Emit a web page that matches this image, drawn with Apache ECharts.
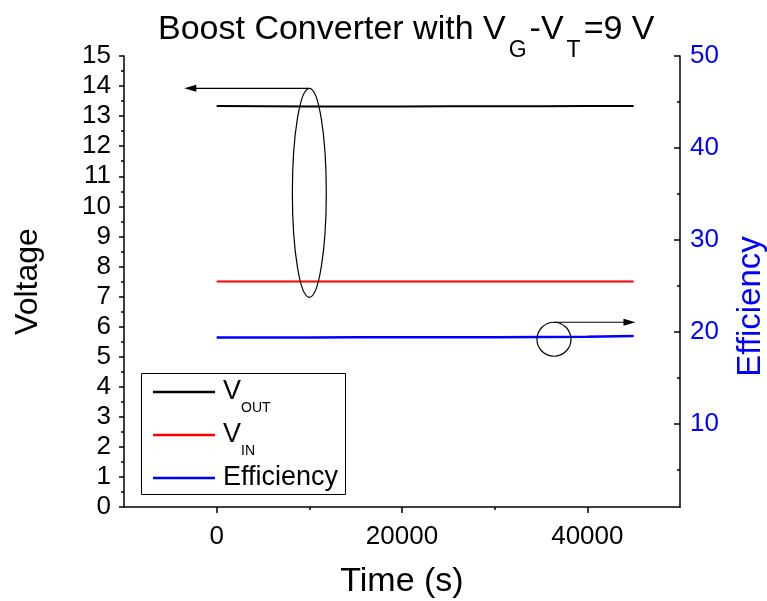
<!DOCTYPE html>
<html>
<head>
<meta charset="utf-8">
<script src="https://cdn.jsdelivr.net/npm/echarts@6/dist/echarts.min.js"></script>
<style>
    html, body { margin: 0; padding: 0; background: #fff; }
    #main { width: 767px; height: 601px; }
</style>
</head>
<body>
<div id="main"></div>
<script>
// time (s)
var timeData = [0, 5000, 10000, 15000, 20000, 25000, 30000, 35000, 40000, 45000];
// voltages (V)
var voutData = [13.34, 13.33, 13.32, 13.32, 13.32, 13.33, 13.33, 13.33, 13.34, 13.34];
var vinData = [7.5, 7.5, 7.5, 7.5, 7.5, 7.5, 7.5, 7.5, 7.5, 7.5];
// efficiency (%)
var effData = [19.42, 19.42, 19.42, 19.43, 19.43, 19.44, 19.45, 19.47, 19.5, 19.57];

var xLabelValues = [0, 20000, 40000];
var xMinorTicks = [10000, 30000];
var effLabelValues = [10, 20, 30, 40, 50];
var effMinorTicks = [5, 15, 25, 35, 45];

var font = 'Liberation Sans, Arial, sans-serif';

function pairs(xs, ys) {
    var out = [];
    for (var i = 0; i < xs.length; i++) {
        out.push([xs[i], ys[i]]);
    }
    return out;
}

var legendNames = {
    'VOUT': '{m|V}{s|OUT}',
    'VIN': '{m|V}{s|IN}',
    'Efficiency': '{m|Efficiency}{s| }'
};

var chart = echarts.init(document.getElementById('main'));

var tickStyle = { color: '#000', width: 1.5 };

var option = {
    animation: false,
    textStyle: { fontFamily: font },
    title: {
        text: '{m|Boost Converter with V}{s|G}{m|-V}{s|T}{m|=9 V}',
        left: 158,
        top: 13,
        padding: 0,
        textStyle: {
            fontWeight: 'normal',
            rich: {
                m: { fontFamily: font, fontSize: 34, fontWeight: 'normal', color: '#000', lineHeight: 40, verticalAlign: 'top' },
                s: { fontFamily: font, fontSize: 23, fontWeight: 'normal', color: '#000', lineHeight: 26, padding: [26, 3, 0, 3], verticalAlign: 'top' }
            }
        }
    },
    grid: { left: 124, right: 87, top: 56, bottom: 94, outerBoundsMode: 'none' },
    legend: {
        orient: 'vertical',
        left: 153,
        top: 369,
        padding: 0,
        itemGap: -3,
        itemWidth: 62,
        itemHeight: 2.5,
        icon: 'rect',
        data: ['VOUT', 'VIN', 'Efficiency'],
        formatter: function (name) { return legendNames[name]; },
        textStyle: {
            rich: {
                m: { fontFamily: font, fontSize: 27, color: '#000', lineHeight: 46, padding: [0, 0, 0, 3] },
                s: { fontFamily: font, fontSize: 14, color: '#000', lineHeight: 14, padding: [32, 0, 0, 0], verticalAlign: 'top' }
            }
        }
    },
    xAxis: [{
        type: 'value',
        min: -10000,
        max: 50000,
        interval: 10000,
        name: 'Time (s)',
        nameLocation: 'middle',
        nameGap: 58,
        nameTextStyle: { fontFamily: font, fontSize: 34, color: '#000' },
        splitLine: { show: false },
        axisLine: { show: true, onZero: false, lineStyle: tickStyle },
        axisTick: { show: true, customValues: xLabelValues, length: 6, lineStyle: tickStyle },
        axisLabel: {
            customValues: xLabelValues,
            margin: 17,
            fontFamily: font,
            fontSize: 26,
            color: '#000',
            formatter: function (v) { return String(v); }
        }
    }, {
        type: 'value',
        min: -10000,
        max: 50000,
        position: 'bottom',
        splitLine: { show: false },
        axisLine: { show: false, onZero: false },
        axisLabel: { show: false },
        axisTick: { show: true, customValues: xMinorTicks, length: 3, lineStyle: tickStyle }
    }],
    yAxis: [{
        type: 'value',
        min: 0,
        max: 15,
        interval: 1,
        position: 'left',
        name: 'Voltage',
        nameLocation: 'middle',
        nameGap: 80,
        nameTextStyle: { fontFamily: font, fontSize: 32, color: '#000' },
        splitLine: { show: false },
        axisLine: { show: true, onZero: false, lineStyle: tickStyle },
        axisTick: { show: true, length: 5, lineStyle: tickStyle },
        minorTick: { show: true, splitNumber: 2, length: 3, lineStyle: tickStyle },
        axisLabel: { margin: 13, fontFamily: font, fontSize: 26, color: '#000' }
    }, {
        type: 'value',
        min: 1,
        max: 50,
        position: 'right',
        name: 'Efficiency',
        nameLocation: 'middle',
        nameGap: 54,
        nameTextStyle: { fontFamily: font, fontSize: 33, color: '#0000ff', padding: [0, 50, 0, 0] },
        splitLine: { show: false },
        axisLine: { show: true, onZero: false, lineStyle: tickStyle },
        axisTick: { show: true, inside: true, customValues: effLabelValues, length: 6, lineStyle: tickStyle },
        axisLabel: {
            customValues: effLabelValues,
            margin: 10,
            fontFamily: font,
            fontSize: 26,
            color: '#0000ff'
        }
    }, {
        type: 'value',
        min: 1,
        max: 50,
        position: 'right',
        splitLine: { show: false },
        axisLine: { show: false, onZero: false },
        axisLabel: { show: false },
        axisTick: { show: true, inside: true, customValues: effMinorTicks, length: 3, lineStyle: tickStyle }
    }],
    series: [{
        name: 'VOUT',
        type: 'line',
        xAxisIndex: 0,
        yAxisIndex: 0,
        symbol: 'none',
        color: '#000000',
        lineStyle: { width: 2, color: '#000000' },
        data: pairs(timeData, voutData)
    }, {
        name: 'VIN',
        type: 'line',
        xAxisIndex: 0,
        yAxisIndex: 0,
        symbol: 'none',
        color: '#ff0000',
        lineStyle: { width: 2, color: '#ff0000' },
        data: pairs(timeData, vinData)
    }, {
        name: 'Efficiency',
        type: 'line',
        xAxisIndex: 0,
        yAxisIndex: 1,
        symbol: 'none',
        color: '#0000ff',
        lineStyle: { width: 2.5, color: '#0000ff' },
        data: pairs(timeData, effData)
    }]
};

chart.setOption(option);

// annotations: ellipse around the voltage curves with arrow to the left axis,
// circle on the efficiency curve with arrow to the right axis
var ellipseCenter = [10000, 10.45];
var ellipseHalf = [1830, 3.475];
var leftArrowEnd = -3500;
var circleCenter = [36400, 5.58];
var circleRadius = 17;
var rightArrowEnd = 45200;

function px(t, v) {
    return chart.convertToPixel({ xAxisIndex: 0, yAxisIndex: 0 }, [t, v]);
}

var ec = px(ellipseCenter[0], ellipseCenter[1]);
var eEdge = px(ellipseCenter[0] + ellipseHalf[0], ellipseCenter[1] + ellipseHalf[1]);
var erx = eEdge[0] - ec[0];
var ery = ec[1] - eEdge[1];
var la = px(leftArrowEnd, 0)[0];
var cc = px(circleCenter[0], circleCenter[1]);
var ra = px(rightArrowEnd, 0)[0];

var stroke = { stroke: '#000', lineWidth: 1.2, fill: null };

chart.setOption({
    graphic: [{
        type: 'ellipse',
        shape: { cx: ec[0], cy: ec[1], rx: erx, ry: ery },
        style: stroke,
        z: 100
    }, {
        type: 'line',
        shape: { x1: ec[0], y1: ec[1] - ery, x2: la + 8, y2: ec[1] - ery },
        style: stroke,
        z: 100
    }, {
        type: 'polygon',
        shape: { points: [[la, ec[1] - ery], [la + 12, ec[1] - ery - 3.5], [la + 12, ec[1] - ery + 3.5]] },
        style: { fill: '#000' },
        z: 100
    }, {
        type: 'circle',
        shape: { cx: cc[0], cy: cc[1], r: circleRadius },
        style: stroke,
        z: 100
    }, {
        type: 'line',
        shape: { x1: cc[0], y1: cc[1] - circleRadius, x2: ra - 8, y2: cc[1] - circleRadius },
        style: stroke,
        z: 100
    }, {
        type: 'polygon',
        shape: { points: [[ra, cc[1] - circleRadius], [ra - 12, cc[1] - circleRadius - 3.5], [ra - 12, cc[1] - circleRadius + 3.5]] },
        style: { fill: '#000' },
        z: 100
    }, {
        // legend frame
        type: 'rect',
        shape: { x: 141.5, y: 373.5, width: 204, height: 121 },
        style: { stroke: '#000', lineWidth: 1, fill: null },
        z: 90
    }]
});
</script>
</body>
</html>
